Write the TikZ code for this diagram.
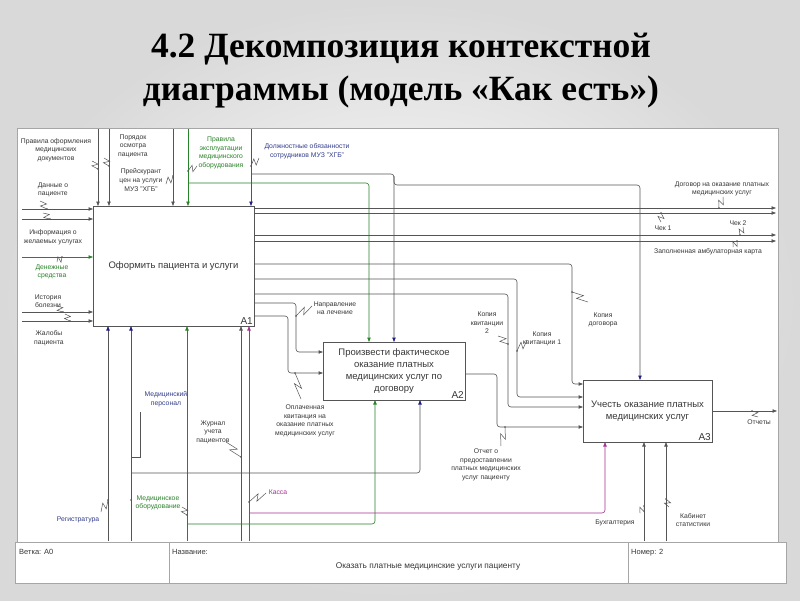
\documentclass[tikz,border=0pt]{standalone}
\usepackage{fontspec}
\setmainfont{Liberation Sans}
\newfontfamily\titlefont{Liberation Serif}
\usetikzlibrary{arrows.meta,calc}
\definecolor{lg}{RGB}{85,85,85}
\definecolor{nv}{RGB}{30,30,130}
\definecolor{gr}{RGB}{40,130,40}
\definecolor{mg}{RGB}{165,50,145}
\definecolor{tg}{RGB}{55,55,55}
\definecolor{bt}{RGB}{50,60,140}
\newcommand\zigz[2]{\draw[zzs] (#1) -- ($(#1)!0.62!(#2)!3pt!90:(#2)$) -- ($(#1)!0.38!(#2)!3pt!-90:(#2)$) -- (#2); \fill[lg] (#2) circle (0.9);}
\begin{document}
\begin{tikzpicture}[x=1pt,y=-1pt,
  ln/.style={draw=lg, line width=0.6pt, rounded corners=3pt},
  arr/.style={ln, -{Triangle[length=4.5pt,width=3.4pt]}},
  tipn/.style={-{Triangle[length=4.5pt,width=3.4pt,color=nv]}},
  arrg/.style={ln, draw=gr, -{Triangle[length=4.5pt,width=3.4pt,color=gr]}},
  arrm/.style={ln, draw=mg, -{Triangle[length=4.5pt,width=3.4pt,color=mg]}},
  zzs/.style={draw=lg, line width=0.5pt},
  lbl/.style={font=\fontsize{6.8}{8.6}\selectfont, text=tg, align=center, inner sep=0pt},
  lblg/.style={lbl, text=gr},
  lblb/.style={lbl, text=bt},
  lblm/.style={lbl, text=mg},
  box/.style={draw=lg, line width=0.8pt, fill=white, inner sep=0pt, outer sep=0pt, text=tg, align=center, font=\fontsize{9.5}{12}\selectfont},
  num/.style={font=\fontsize{10}{10}\selectfont, text=tg, inner sep=1pt},
  frame/.style={draw=gray!70, line width=0.6pt},
  ft/.style={font=\fontsize{7.5}{9}\selectfont, text=tg, inner sep=0pt}
]
\useasboundingbox (0,0) rectangle (800,600);
\shade[inner color=white, outer color=gray!30] (0,0) rectangle (800,600);
% title
\node[font=\titlefont\bfseries\fontsize{35.5}{43}\selectfont, align=center, text=black] (title) at (401,71) {4.2 Декомпозиция контекстной\\диаграммы (модель «Как есть»)};
% frame
\fill[white] (17,128) rectangle (778,542);
\draw[frame] (17,128) rectangle (778,542);
\draw[frame, fill=white] (15,542) rectangle (786,583);
\draw[frame] (169,542) -- (169,583) (628,542) -- (628,583);
\node[ft, anchor=north west] (fvet) at (19,549) {Ветка: А0};
\node[ft, anchor=north west] (fnaz) at (172,549) {Название:};
\node[ft, anchor=north west] (fnom) at (631,549) {Номер: 2};
\node[ft, font=\fontsize{8.3}{10}\selectfont] (fname) at (428,566) {Оказать платные медицинские услуги пациенту};
% boxes
\node[box, minimum width=161pt, minimum height=120pt] (A1) at (173.5,266) {Оформить пациента и услуги};
\node[box, minimum width=142pt, minimum height=58pt] (A2) at (394,371) {Произвести фактическое\\оказание платных\\медицинских услуг по\\договору};
\node[box, minimum width=129pt, minimum height=62pt] (A3) at (647.5,411) {Учесть оказание платных\\медицинских услуг};
\node[num, anchor=south east] (A1n) at (A1.south east) {А1};
\node[num, anchor=south east] (A2n) at (A2.south east) {А2};
\node[num, anchor=south east] (A3n) at (A3.south east) {А3};
% inputs to A1
\coordinate (L1) at (22,209); \draw[arr] (L1) -- (L1 -| A1.west);
\coordinate (L2) at (22,219); \draw[arr] (L2) -- (L2 -| A1.west);
\coordinate (L3) at (22,257); \draw[arrg] (L3) -- (L3 -| A1.west);
\coordinate (L4) at (22,312); \draw[arr] (L4) -- (L4 -| A1.west);
\coordinate (L5) at (22,321); \draw[arr] (L5) -- (L5 -| A1.west);
\node[lbl] (tL1) at (53,190) {Данные о\\пациенте};
\node[lbl] (tL2) at (53,237) {Информация о\\желаемых услугах};
\node[lblg] (tL3) at (52,272) {Денежные\\средства};
\node[lbl] (tL4) at (48,301) {История\\болезни};
\node[lbl] (tL5) at (49,338) {Жалобы\\пациента};
\zigz{40,201}{47,209}
\zigz{43,213}{50,219}
\zigz{57,262}{62,257}
\zigz{57,306}{63,312}
\zigz{65,314}{70,321}
% controls to A1
\coordinate (T1) at (98,129); \draw[arr] (T1) -- (T1 |- A1.north);
\coordinate (T2) at (109,129); \draw[arr] (T2) -- (T2 |- A1.north);
\coordinate (T3) at (173,129); \draw[arr] (T3) -- (T3 |- A1.north);
\coordinate (T4) at (188,129); \draw[arrg] (T4) -- (T4 |- A1.north);
\coordinate (T5) at (251,129); \draw[arr,tipn] (T5) -- (T5 |- A1.north);
\draw[arrg] (T4 |- 0,183) -- (369,183) -- (369,0 |- A2.north);
\draw[arr,tipn] (T5 |- 0,174) -- (394,174) -- (394,0 |- A2.north);
\draw[arr,tipn] (394,176) -- (394,185) -- (640,185) -- (640,0 |- A3.north);
\node[lbl] (tT1) at (56,150) {Правила оформления\\медицинских\\документов};
\node[lbl] (tT2) at (133,146) {Порядок\\осмотра\\пациента};
\node[lbl] (tT3) at (141,180) {Прейскурант\\цен на услуги\\МУЗ "ХГБ"};
\node[lblg] (tT4) at (221,153) {Правила\\эксплуатации\\медицинского\\оборудования};
\node[lblb] (tT5) at (307,151) {Должностные обязанности\\сотрудников МУЗ "ХГБ"};
\zigz{92,161}{98,169}
\zigz{104,158}{109,166}
\zigz{166,184}{173,176}
\zigz{197,166}{188,171}
\zigz{259,158}{251,166}
% outputs of A1 to the boundary
\coordinate (R1) at (776,208); \draw[arr] (R1 -| A1.east) -- (R1);
\coordinate (R2) at (776,213); \draw[arr] (R2 -| A1.east) -- (R2);
\coordinate (R3) at (776,235); \draw[arr] (R3 -| A1.east) -- (R3);
\coordinate (R4) at (776,241); \draw[arr] (R4 -| A1.east) -- (R4);
\node[lbl] (tR1) at (722,189) {Договор на оказание платных\\медицинских услуг};
\node[lbl] (tR2) at (663,228) {Чек 1};
\node[lbl] (tR3) at (738,223) {Чек 2};
\node[lbl] (tR4) at (708,252) {Заполненная амбулаторная карта};
\zigz{723,197}{719,208}
\zigz{661,222}{661,213}
\zigz{743,227}{740,235}
\zigz{733,247}{737,241}
% A1 -> A3
\draw[arr] (A1.east |- 0,264) -- (572,264) -- (572,384) -- (A3.west |- 0,384);
\draw[arr] (A1.east |- 0,279) -- (517,279) -- (517,397) -- (A3.west |- 0,397);
\draw[arr] (A1.east |- 0,294) -- (508,294) -- (508,407) -- (A3.west |- 0,407);
\node[lbl] (tC1) at (603,320) {Копия\\договора};
\node[lbl] (tC2) at (487,323) {Копия\\квитанции\\2};
\node[lbl] (tC3) at (542,339) {Копия\\квитанции 1};
\zigz{588,302}{572,292}
\zigz{498,336}{508,344}
\zigz{527,340}{517,351}
% A1 -> A2
\draw[arr] (A1.east |- 0,303) -- (296,303) -- (296,352) -- (A2.west |- 0,352);
\draw[arr] (A1.east |- 0,316) -- (288,316) -- (288,373) -- (A2.west |- 0,373);
\node[lbl] (tN) at (335,308) {Направление\\на лечение};
\node[lbl] (tO) at (305,421) {Оплаченная\\квитанция на\\оказание платных\\медицинских услуг};
\zigz{312,306}{296,316}
\zigz{301,399}{295,373}
% A2 -> A3
\draw[arr] (A2.east |- 0,374) -- (497,374) -- (497,427) -- (A3.west |- 0,427);
\node[lbl] (tOt) at (486,465) {Отчет о\\предоставлении\\платных медицинских\\услуг пациенту};
\zigz{501,446}{505,427}
% A3 output
\coordinate (R5) at (777,411); \draw[arr] (R5 -| A3.east) -- (R5);
\node[lbl] (tR5) at (759,422) {Отчеты};
\zigz{758,417}{752,411}
% mechanisms
\coordinate (B1) at (108,541); \draw[arr,tipn] (B1) -- (B1 |- A1.south);
\coordinate (B2) at (131,541); \draw[arr,tipn] (B2) -- (B2 |- A1.south);
\coordinate (B3) at (187,541); \draw[arrg] (B3) -- (B3 |- A1.south);
\coordinate (B4) at (241,541); \draw[arr] (B4) -- (B4 |- A1.south);
\coordinate (B5) at (249,541); \draw[arrm] (B5) -- (B5 |- A1.south);
\coordinate (B6) at (644,541); \draw[arr] (B6) -- (B6 |- A3.south);
\coordinate (B7) at (666,541); \draw[arr] (B7) -- (B7 |- A3.south);
\draw[arr,tipn] (B2 |- 0,473) -- (420,473) -- (420,0 |- A2.south);
\draw[arrg] (B3 |- 0,524) -- (375,524) -- (375,0 |- A2.south);
\draw[arrm] (B5 |- 0,513) -- (605,513) -- (605,0 |- A3.south);
\node[lblb] (tB1) at (78,520) {Регистратура};
\node[lblb] (tB2) at (166,399) {Медицинский\\персонал};
\node[lblg] (tB3) at (158,503) {Медицинское\\оборудование};
\node[lbl] (tB4) at (213,432) {Журнал\\учета\\пациентов};
\node[lblm] (tB5) at (278,492) {Касса};
\node[lbl] (tB6) at (615,523) {Бухгалтерия};
\node[lbl] (tB7) at (693,520) {Кабинет\\статистики};
\zigz{101,512}{108,500}
\draw[zzs] (140,412) -- (140,457) -- (131,457);
\fill[lg] (131,500) circle (0.9);
\zigz{182,507}{187,515}
\zigz{226,442}{241,457}
\zigz{266,493}{249,502}
\zigz{640,513}{644,506}
\zigz{669,507}{666,499}
\end{tikzpicture}
\end{document}
